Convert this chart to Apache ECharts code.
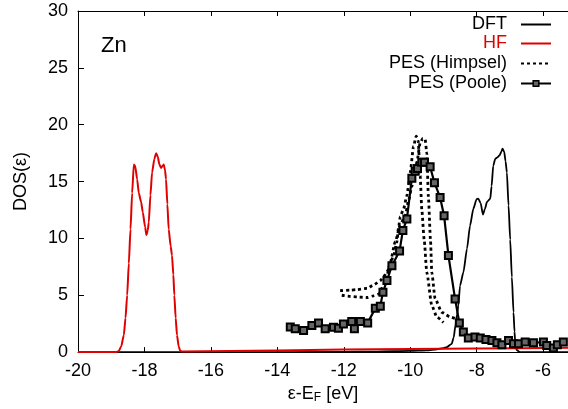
<!DOCTYPE html>
<html>
<head>
<meta charset="utf-8">
<script src="https://cdn.jsdelivr.net/npm/echarts@6/dist/echarts.min.js"></script>
<style>html,body{margin:0;padding:0;background:#fff}#c{width:568px;height:409px}</style>
</head>
<body>
<div id="c"></div>
<script>
// x ticks / y ticks
const xTicks = [-20, -18, -16, -14, -12, -10, -8, -6];
const yTicks = [0, 5, 10, 15, 20, 25, 30];

// DFT (black solid)
const dft = [[-20,0],[-13.5,0],[-12,0.02],[-11,0.05],[-10,0.1],[-9.5,0.15],[-9.2,0.25],[-9.0,0.35],[-8.9,0.44],[-8.75,0.73],[-8.69,1.3],[-8.64,2.3],[-8.59,3.3],[-8.55,4.1],[-8.5,5.85],[-8.4,7.0],[-8.29,9.1],[-8.2,11.1],[-8.1,12.6],[-8.0,13.46],[-7.95,13.5],[-7.88,13.1],[-7.81,12.1],[-7.75,12.6],[-7.69,13.2],[-7.59,13.5],[-7.55,14.6],[-7.5,16.4],[-7.44,17.0],[-7.39,17.1],[-7.31,17.3],[-7.26,17.6],[-7.22,17.9],[-7.17,17.6],[-7.13,16.8],[-7.09,15.8],[-7.04,12.9],[-6.99,9.9],[-6.94,6.6],[-6.89,3.5],[-6.86,1.8],[-6.84,0.9],[-6.8,0.2],[-6.7,0],[-5.25,0]];

// HF (red)
const hf = [[-20,0],[-18.85,0],[-18.77,0.1],[-18.7,0.5],[-18.62,1.5],[-18.57,3.0],[-18.52,5.0],[-18.47,7.8],[-18.42,10.8],[-18.37,14.0],[-18.32,16.5],[-18.28,16.4],[-18.22,15.2],[-18.17,14.0],[-18.1,13.2],[-18.05,12.3],[-17.98,11.0],[-17.94,10.3],[-17.9,10.7],[-17.87,11.4],[-17.82,13.8],[-17.77,15.8],[-17.7,17.0],[-17.65,17.5],[-17.6,17.2],[-17.55,16.5],[-17.5,16.2],[-17.45,16.4],[-17.42,16.5],[-17.38,16.0],[-17.35,15.2],[-17.31,13.0],[-17.27,10.8],[-17.21,9.3],[-17.17,8.5],[-17.13,6.8],[-17.1,5.0],[-17.06,3.0],[-17.02,1.5],[-16.97,0.5],[-16.92,0.1],[-16.85,0.05],[-14,0.15],[-12,0.22],[-10,0.27],[-8,0.32],[-5.25,0.38]];

// PES (Himpsel), two spectra (black dotted)
const himpselA = [[-12.11,5.4],[-11.8,5.45],[-11.6,5.5],[-11.3,5.6],[-11.1,5.9],[-10.9,6.3],[-10.75,6.8],[-10.65,7.3],[-10.5,8.5],[-10.4,9.7],[-10.35,11.0],[-10.3,11.9],[-10.2,12.6],[-10.1,13.75],[-10.0,15.8],[-9.9,18.1],[-9.82,19.0],[-9.76,18.6],[-9.7,15.5],[-9.65,12.5],[-9.58,9.9],[-9.5,7.0],[-9.35,4.1],[-9.2,3.1],[-9.0,2.6]];
const himpselB = [[-12.06,5.0],[-11.8,4.9],[-11.6,4.85],[-11.3,4.8],[-11.1,4.95],[-10.95,5.1],[-10.8,5.85],[-10.7,6.7],[-10.6,7.9],[-10.45,9.7],[-10.3,11.2],[-10.15,12.0],[-10.05,13.3],[-9.95,14.6],[-9.8,16.7],[-9.7,18.4],[-9.62,18.8],[-9.55,18.7],[-9.5,17.5],[-9.45,13.5],[-9.39,9.9],[-9.35,7.0],[-9.25,4.7],[-9.05,3.5],[-8.8,3.1],[-8.6,2.9]];

// PES (Poole) (black line + squares)
const poole = [[-13.61,2.2],[-13.46,2.05],[-13.21,1.9],[-12.96,2.34],[-12.76,2.57],[-12.56,2.05],[-12.31,2.19],[-12.16,2.1],[-12.01,2.48],[-11.76,2.69],[-11.68,2.05],[-11.5,2.69],[-11.28,2.57],[-11.05,3.86],[-10.9,4.04],[-10.82,5.27],[-10.7,6.29],[-10.55,7.6],[-10.32,8.9],[-10.22,10.7],[-10.1,11.7],[-9.95,15.3],[-9.85,15.9],[-9.78,16.15],[-9.65,16.7],[-9.57,16.7],[-9.4,16.3],[-9.27,14.9],[-9.1,13.6],[-8.98,12.0],[-8.85,8.5],[-8.65,4.68],[-8.52,2.57],[-8.4,1.76],[-8.25,1.23],[-8.05,1.32],[-7.89,1.23],[-7.72,1.1],[-7.54,1.02],[-7.39,0.82],[-7.24,0.64],[-7.04,1.02],[-6.89,0.73],[-6.74,0.73],[-6.54,0.88],[-6.29,0.82],[-5.99,0.88],[-5.89,0.58],[-5.69,0.35],[-5.57,0.64],[-5.39,0.88]];

const names = ['DFT', 'HF', 'PES (Himpsel)', 'PES (Poole)'];
const nameColors = ['#000', '#e00000', '#000', '#000'];

const FONT = 'Liberation Sans';
const chart = echarts.init(document.getElementById('c'), null, {renderer: 'canvas'});

const legendCenters = [26.5, 45.5, 65.5, 85.5];
const legends = names.map((n, i) => ({
  data: [{name: n, textStyle: {color: nameColors[i]}}],
  right: 16,
  top: legendCenters[i] - 11,
  align: 'right',
  orient: 'vertical',
  itemWidth: 30,
  itemHeight: i === 3 ? 7 : 10,
  padding: 0,
  selectedMode: false,
  itemStyle: i === 3 ? {color: '#666', borderColor: '#000', borderWidth: 1.5} : {opacity: 0},
  textStyle: {fontFamily: FONT, fontSize: 18, color: nameColors[i], padding: [0, 9, 0, 0]}
}));

const xTickSet = new Set(xTicks);
const yTickSet = new Set(yTicks);

chart.setOption({
  animation: false,
  backgroundColor: '#fff',
  textStyle: {fontFamily: FONT},
  grid: {left: 78, right: 0, top: 11, bottom: 56, containLabel: false},
  legend: legends,
  graphic: [{
    type: 'text', left: 101, top: 35,
    style: {text: 'Zn', fontFamily: FONT, fontSize: 22, fill: '#000'}
  }],
  xAxis: [{
    type: 'value', min: xTicks[0], max: -5.25, interval: 2, position: 'bottom',
    axisLine: {show: true, onZero: false, lineStyle: {color: '#000', width: 1}},
    axisTick: {show: true, inside: true, length: 5, lineStyle: {color: '#000'}},
    axisLabel: {show: true, margin: 10, fontSize: 18, fontFamily: FONT, color: '#000', showMaxLabel: false,
      formatter: v => xTickSet.has(v) ? String(v) : ''},
    splitLine: {show: false},
    name: '{a|ε-E}{s|F}{a| [eV]}', nameLocation: 'middle', nameGap: 29,
    nameTextStyle: {rich: {a: {fontSize: 18, fontFamily: FONT, color: '#000'}, s: {fontSize: 12, fontFamily: FONT, color: '#000', verticalAlign: 'bottom', padding: [8, 0, 0, 0]}}}
  }, {
    type: 'value', min: xTicks[0], max: -5.25, interval: 2, position: 'top',
    axisLine: {show: true, onZero: false, lineStyle: {color: '#000', width: 1}},
    axisTick: {show: true, inside: true, length: 5, lineStyle: {color: '#000'}},
    axisLabel: {show: false}, splitLine: {show: false}
  }],
  yAxis: [{
    type: 'value', min: yTicks[0], max: yTicks[yTicks.length - 1], interval: 5,
    axisLine: {show: true, onZero: false, lineStyle: {color: '#000', width: 1}},
    axisTick: {show: true, inside: true, length: 6, lineStyle: {color: '#000'}},
    axisLabel: {show: true, margin: 10, fontSize: 18, fontFamily: FONT, color: '#000',
      formatter: v => yTickSet.has(v) ? String(v) : ''},
    splitLine: {show: false},
    name: 'DOS(ε)', nameLocation: 'middle', nameGap: 48,
    nameTextStyle: {fontSize: 18, fontFamily: FONT, color: '#000'}
  }],
  series: [
    {name: names[0], type: 'line', data: dft, showSymbol: false, symbol: 'none', smooth: 0.2, smoothMonotone: 'x',
      lineStyle: {color: '#000', width: 1.8}, itemStyle: {color: '#000'}, z: 2},
    {name: names[1], type: 'line', data: hf, showSymbol: false, symbol: 'none', smooth: 0.2, smoothMonotone: 'x',
      lineStyle: {color: '#e00000', width: 2}, itemStyle: {color: '#e00000'}, z: 3},
    {name: names[2], type: 'line', data: himpselA, showSymbol: false, symbol: 'none', smooth: 0.2, smoothMonotone: 'x',
      lineStyle: {color: '#000', width: 2.8, type: [3, 3]}, itemStyle: {color: '#000'}, z: 4},
    {name: names[2], type: 'line', data: himpselB, showSymbol: false, symbol: 'none', smooth: 0.2, smoothMonotone: 'x',
      lineStyle: {color: '#000', width: 2.8, type: [3, 3]}, itemStyle: {color: '#000'}, z: 4},
    {name: names[3], type: 'line', data: poole, showSymbol: true, symbol: 'rect', symbolSize: 7,
      lineStyle: {color: '#000', width: 2.2}, itemStyle: {color: '#666', borderColor: '#000', borderWidth: 2}, z: 5}
  ]
});
</script>
</body>
</html>
